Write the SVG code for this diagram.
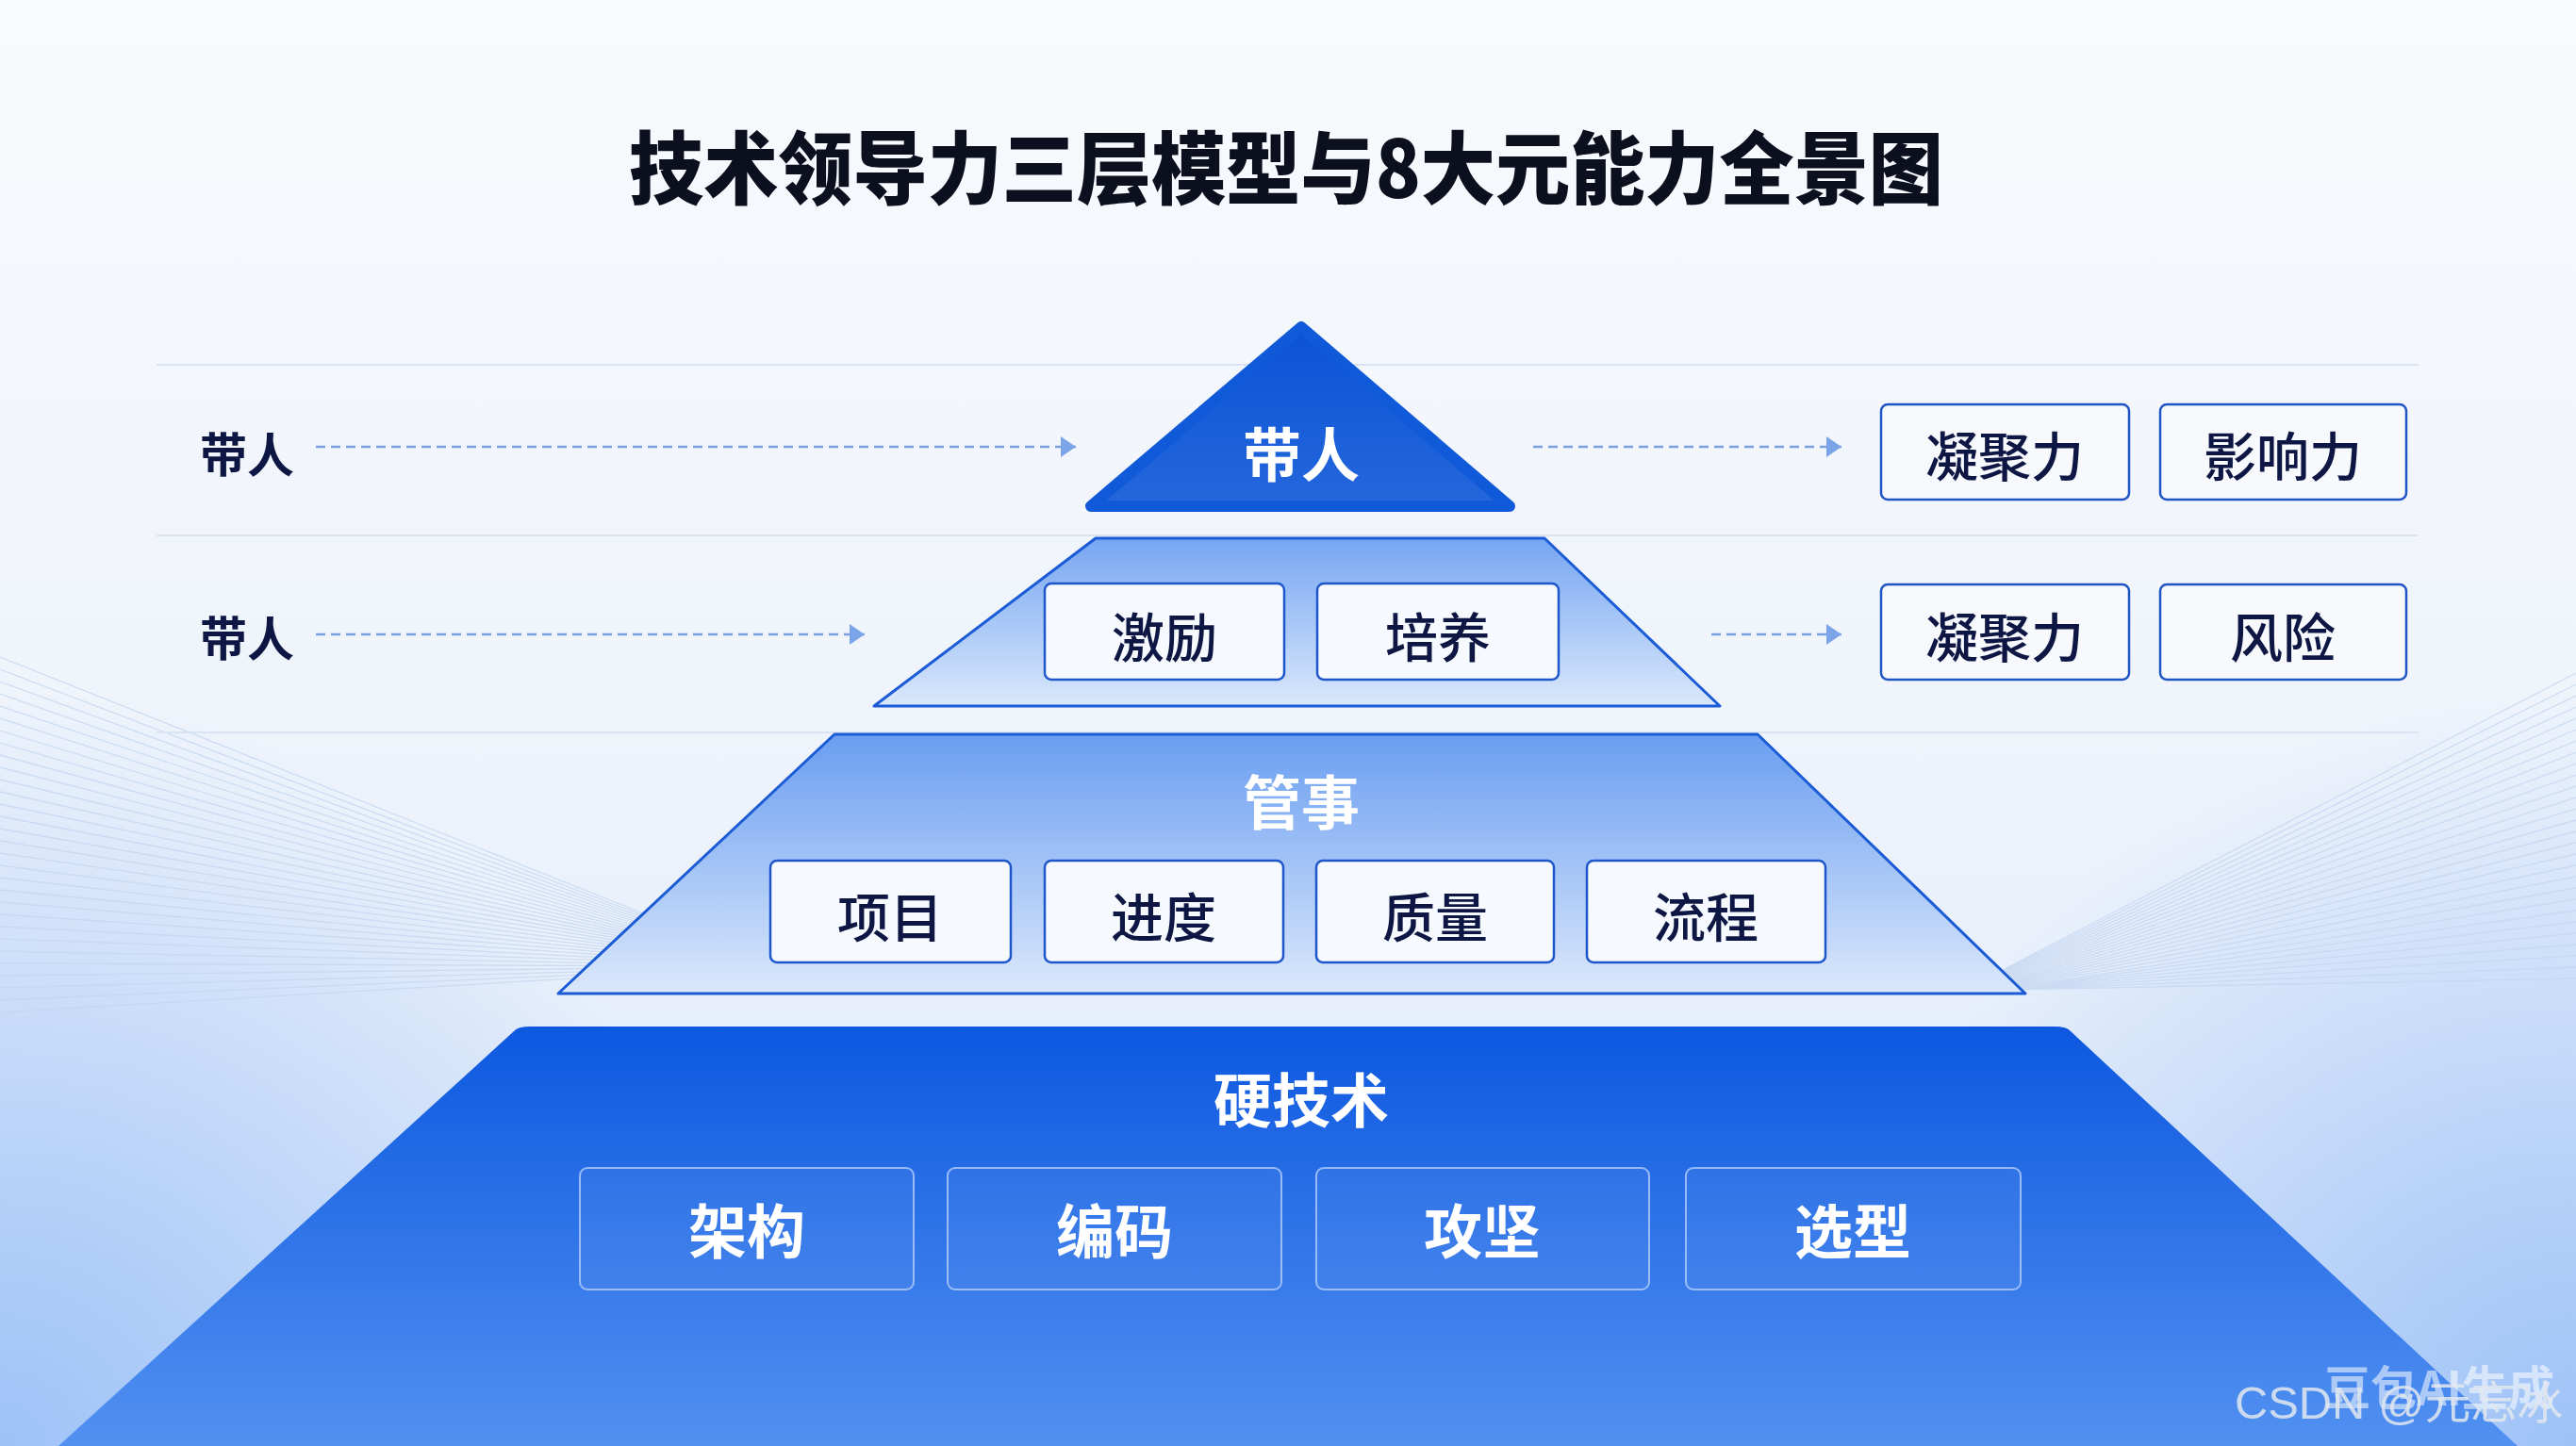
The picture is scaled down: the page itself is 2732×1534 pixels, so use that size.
<svg xmlns="http://www.w3.org/2000/svg" width="2732" height="1534" viewBox="0 0 2732 1534">
<defs>
<style>
.cjk{font-family:"Noto Sans CJK SC","Noto Sans",sans-serif}
.sep{stroke:#d9e3f1;stroke-width:2;fill:none}
.fan{stroke:#c3d5f0;stroke-width:1.3;fill:none;opacity:.75}
.dash{stroke:#7aa0e2;stroke-width:2.5;stroke-dasharray:10 6;fill:none}
.lbox{fill:#f6f9fe;stroke:#1e57cc;stroke-width:2.5}
.rbox{fill:#f7f9fd;stroke:#1f55c4;stroke-width:2.5}
.dbox{fill:#ffffff;fill-opacity:.05;stroke:#bcd3fb;stroke-opacity:.75;stroke-width:2}
.dark{fill:#0e1744;font-size:56px;font-weight:500}
.white{fill:#ffffff;font-weight:700;font-size:62px}
.side{fill:#0e1744;font-weight:700;font-size:50px}
</style>
<linearGradient id="bg" x1="0" y1="0" x2="0" y2="1">
<stop offset="0" stop-color="#f8fafd"/>
<stop offset="0.55" stop-color="#eef3fb"/>
<stop offset="1" stop-color="#dbe8fa"/>
</linearGradient>
<radialGradient id="glowL" cx="0" cy="1534" r="800" gradientUnits="userSpaceOnUse">
<stop offset="0" stop-color="#9ec2f7"/>
<stop offset="1" stop-color="#9ec2f7" stop-opacity="0"/>
</radialGradient>
<radialGradient id="glowR" cx="2732" cy="1534" r="800" gradientUnits="userSpaceOnUse">
<stop offset="0" stop-color="#9ec2f7"/>
<stop offset="1" stop-color="#9ec2f7" stop-opacity="0"/>
</radialGradient>
<linearGradient id="g1" x1="0" y1="0" x2="0" y2="1">
<stop offset="0" stop-color="#0c52d6"/>
<stop offset="1" stop-color="#2467dc"/>
</linearGradient>
<linearGradient id="g2" x1="0" y1="0" x2="0" y2="1">
<stop offset="0" stop-color="#76a6f2"/>
<stop offset="1" stop-color="#dae8fb"/>
</linearGradient>
<linearGradient id="g3" x1="0" y1="0" x2="0" y2="1">
<stop offset="0" stop-color="#6a9ef1"/>
<stop offset="1" stop-color="#dbe8fb"/>
</linearGradient>
<linearGradient id="g4" x1="0" y1="0" x2="0" y2="1">
<stop offset="0" stop-color="#0d58e0"/>
<stop offset="1" stop-color="#5291f1"/>
</linearGradient>
<marker id="arr" markerUnits="userSpaceOnUse" markerWidth="18" markerHeight="24" refX="16" refY="11" orient="auto">
<path d="M0,0 L16,11 L0,22 Z" fill="#7ca4e8"/>
</marker>
</defs>

<rect width="2732" height="1534" fill="url(#bg)"/>
<rect width="2732" height="1534" fill="url(#glowL)"/>
<rect width="2732" height="1534" fill="url(#glowR)"/>

<g id="background-lines">
<path class="fan" d="M0,697 L760,1000 M0,710 L760,1001 M0,723 L760,1002 M0,736 L760,1003 M0,749 L760,1004 M0,762 L760,1005 M0,775 L760,1006 M0,788 L760,1007 M0,801 L760,1008 M0,814 L760,1009 M0,827 L760,1010 M0,840 L760,1011 M0,853 L760,1012 M0,866 L760,1013 M0,879 L760,1014 M0,892 L760,1015 M0,905 L760,1016 M0,918 L760,1017 M0,931 L760,1018 M0,944 L760,1019 M0,957 L760,1020 M0,970 L760,1021 M0,983 L760,1022 M0,996 L760,1023 M0,1009 L760,1024 M0,1022 L760,1025 M0,1035 L760,1026 M0,1048 L760,1027 M0,1061 L760,1028 M0,1074 L760,1029"/>
<path class="fan" d="M2732,714 L2122,1030 M2732,726 L2122,1031 M2732,738 L2122,1032 M2732,750 L2122,1033 M2732,762 L2122,1034 M2732,774 L2122,1035 M2732,786 L2122,1036 M2732,798 L2122,1037 M2732,810 L2122,1038 M2732,822 L2122,1039 M2732,834 L2122,1040 M2732,846 L2122,1041 M2732,858 L2122,1042 M2732,870 L2122,1043 M2732,882 L2122,1044 M2732,894 L2122,1045 M2732,906 L2122,1046 M2732,918 L2122,1047 M2732,930 L2122,1048 M2732,942 L2122,1049 M2732,954 L2122,1050 M2732,966 L2122,1050 M2732,978 L2122,1050 M2732,990 L2122,1050 M2732,1002 L2122,1050 M2732,1014 L2122,1050 M2732,1026 L2122,1050 M2732,1038 L2122,1050"/>
</g>

<g id="separators">
<line class="sep" x1="166" y1="387" x2="2565" y2="387"/>
<line class="sep" x1="166" y1="568" x2="2565" y2="568"/>
<line class="sep" x1="166" y1="777" x2="2565" y2="777"/>
</g>

<text id="title" class="cjk" x="1364" y="210" text-anchor="middle" font-size="84" font-weight="900" fill="#0b0f1e" textLength="1394" lengthAdjust="spacingAndGlyphs">技术领导力三层模型与8大元能力全景图</text>

<g id="tier-top">
<path d="M1380,347 L1601,537 L1157,537 Z" fill="url(#g1)" stroke="#1059d8" stroke-width="12" stroke-linejoin="round"/>
<text class="cjk white" x="1380" y="479" text-anchor="middle" dominant-baseline="central" font-size="60">带人</text>
</g>

<g id="tier-people">
<path d="M1162,571 L1638,571 L1824,749 L927,749 Z" fill="url(#g2)" stroke="#1b5bd5" stroke-width="3" stroke-linejoin="round"/>
<g id="box-jili"><rect class="lbox" x="1108" y="619" width="254" height="102" rx="7"/><text class="cjk dark" x="1235" y="672" text-anchor="middle" dominant-baseline="central">激励</text></g>
<g id="box-peiyang"><rect class="lbox" x="1397" y="619" width="256" height="102" rx="7"/><text class="cjk dark" x="1525" y="672" text-anchor="middle" dominant-baseline="central">培养</text></g>
</g>

<g id="tier-manage">
<path d="M885,779 L1864,779 L2148,1054 L592,1054 Z" fill="url(#g3)" stroke="#1b5bd5" stroke-width="3" stroke-linejoin="round"/>
<text class="cjk white" x="1380" y="848" text-anchor="middle" dominant-baseline="central">管事</text>
<g id="box-xiangmu"><rect class="lbox" x="817" y="913" width="255" height="108" rx="7"/><text class="cjk dark" x="944" y="969" text-anchor="middle" dominant-baseline="central">项目</text></g>
<g id="box-jindu"><rect class="lbox" x="1108" y="913" width="253" height="108" rx="7"/><text class="cjk dark" x="1234" y="969" text-anchor="middle" dominant-baseline="central">进度</text></g>
<g id="box-zhiliang"><rect class="lbox" x="1396" y="913" width="252" height="108" rx="7"/><text class="cjk dark" x="1522" y="969" text-anchor="middle" dominant-baseline="central">质量</text></g>
<g id="box-liucheng"><rect class="lbox" x="1683" y="913" width="253" height="108" rx="7"/><text class="cjk dark" x="1809" y="969" text-anchor="middle" dominant-baseline="central">流程</text></g>
</g>

<g id="tier-tech">
<path d="M562,1089 L2179,1089 Q2192,1089 2196,1094 L2670,1534 L62,1534 L545,1094 Q549,1089 562,1089 Z" fill="url(#g4)"/>
<text class="cjk white" x="1380" y="1164" text-anchor="middle" dominant-baseline="central">硬技术</text>
<g id="box-jiagou"><rect class="dbox" x="615" y="1239" width="354" height="129" rx="8"/><text class="cjk white" x="792" y="1303" text-anchor="middle" dominant-baseline="central">架构</text></g>
<g id="box-bianma"><rect class="dbox" x="1005" y="1239" width="354" height="129" rx="8"/><text class="cjk white" x="1182" y="1303" text-anchor="middle" dominant-baseline="central">编码</text></g>
<g id="box-gongjian"><rect class="dbox" x="1396" y="1239" width="353" height="129" rx="8"/><text class="cjk white" x="1572" y="1303" text-anchor="middle" dominant-baseline="central">攻坚</text></g>
<g id="box-xuanxing"><rect class="dbox" x="1788" y="1239" width="355" height="129" rx="8"/><text class="cjk white" x="1965" y="1303" text-anchor="middle" dominant-baseline="central">选型</text></g>
</g>

<g id="left-label-1"><text class="cjk side" x="262" y="479" text-anchor="middle" dominant-baseline="central">带人</text></g>
<g id="left-label-2"><text class="cjk side" x="262" y="674" text-anchor="middle" dominant-baseline="central">带人</text></g>

<g id="right-row-1">
<g id="box-ningjuli-1"><rect class="rbox" x="1995" y="429" width="263" height="101" rx="7"/><text class="cjk dark" x="2126" y="480" text-anchor="middle" dominant-baseline="central">凝聚力</text></g>
<g id="box-yingxiangli"><rect class="rbox" x="2291" y="429" width="261" height="101" rx="7"/><text class="cjk dark" x="2421" y="480" text-anchor="middle" dominant-baseline="central">影响力</text></g>
</g>
<g id="right-row-2">
<g id="box-ningjuli-2"><rect class="rbox" x="1995" y="620" width="263" height="101" rx="7"/><text class="cjk dark" x="2126" y="672" text-anchor="middle" dominant-baseline="central">凝聚力</text></g>
<g id="box-fengxian"><rect class="rbox" x="2291" y="620" width="261" height="101" rx="7"/><text class="cjk dark" x="2421" y="672" text-anchor="middle" dominant-baseline="central">风险</text></g>
</g>

<g id="connectors">
<line class="dash" x1="335" y1="474" x2="1141" y2="474" marker-end="url(#arr)"/>
<line class="dash" x1="1626" y1="474" x2="1953" y2="474" marker-end="url(#arr)"/>
<line class="dash" x1="335" y1="673" x2="917" y2="673" marker-end="url(#arr)"/>
<line class="dash" x1="1815" y1="673" x2="1953" y2="673" marker-end="url(#arr)"/>
</g>

<g id="watermark">
<text class="cjk" x="2465" y="1469" dominant-baseline="central" font-size="50" font-weight="700" fill="#ffffff" fill-opacity="0.55" textLength="244" lengthAdjust="spacingAndGlyphs">豆包AI生成</text>
<text x="2370" y="1488" dominant-baseline="central" font-family="Liberation Sans,Noto Sans CJK SC,sans-serif" font-size="48" fill="#e3e8ef" fill-opacity="0.85" textLength="348" lengthAdjust="spacingAndGlyphs">CSDN @元忘冰</text>
</g>
</svg>
